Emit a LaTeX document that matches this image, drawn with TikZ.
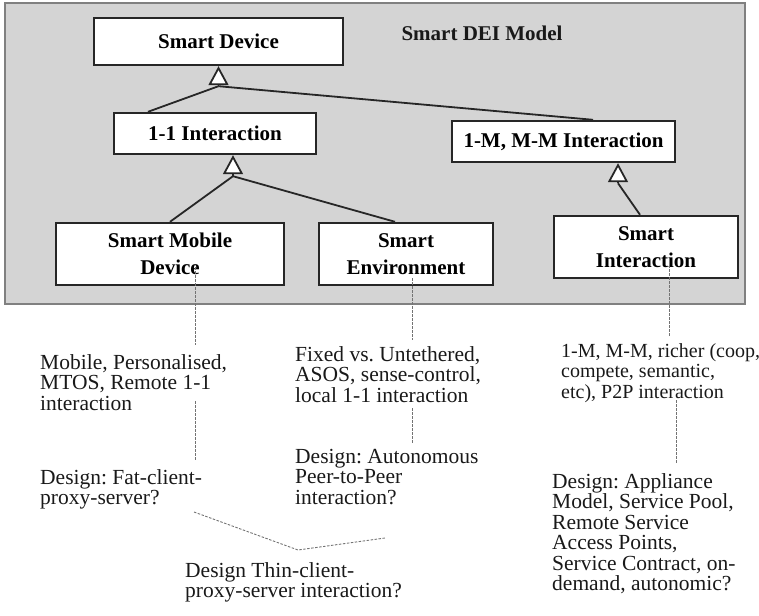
\documentclass[tikz,border=0pt]{standalone}
\usepackage{fontspec}
\setmainfont{Liberation Serif}
\usetikzlibrary{arrows.meta}

\begin{document}
\frenchspacing
\begin{tikzpicture}[x=1pt,y=-1pt,
		box/.style={draw=black!85, line width=2.4pt, fill=white, align=center, inner sep=0pt, font=\bfseries\fontsize{21}{27}\selectfont},
		link/.style={black!85, line width=1.8pt},
		gen/.style={link, -{Triangle[fill=white, width=20pt, length=19pt]}},
		dot/.style={black!55, line width=0.9pt, dash pattern=on 2.5pt off 1.5pt},
		note/.style={anchor=north west, align=left, inner sep=0pt, text=black!90, font=\fontsize{21.5}{20.5}\selectfont}]
		\useasboundingbox (0,0) rectangle (759,615);
		\filldraw[draw=black!50, fill=black!17, line width=1.6pt] (5,3) rectangle (745,304);
		\node[font=\bfseries\fontsize{21}{21}\selectfont, text=black!90] (title) at (482,33) {Smart DEI Model};
		\node[box, minimum width=249pt, minimum height=47pt] (sd) at (218.5,41.5) {Smart Device};
		\node[box, minimum width=202pt, minimum height=41pt] (ii) at (215,133.5) {1-1 Interaction};
		\node[box, minimum width=223pt, minimum height=41pt] (mm) at (563.5,141.5) {1-M, M-M Interaction};
		\node[box, minimum width=228pt, minimum height=62pt] (smd) at (170,254) {Smart Mobile\\Device};
		\node[box, minimum width=174pt, minimum height=62pt] (se) at (406,254) {Smart\\Environment};
		\node[box, minimum width=184pt, minimum height=62pt] (si) at (646,247) {Smart\\Interaction};
		\coordinate (t1) at ([yshift=-20pt]sd.south);
		\coordinate (t2) at ([xshift=18pt,yshift=-21pt]ii.south);
		\coordinate (t3) at ([xshift=54.5pt,yshift=-20pt]mm.south);
		\draw[link] ([xshift=-67pt]ii.north) -- (t1);
		\draw[link] ([xshift=29.5pt]mm.north) -- (t1);
		\draw[gen] (t1) -- (sd.south);
		\draw[link] (smd.north) -- (t2);
		\draw[link] ([xshift=-11pt]se.north) -- (t2);
		\draw[gen] (t2) -- ([xshift=18pt]ii.south);
		\draw[link] ([xshift=-6pt]si.north) -- (t3);
		\draw[gen] (t3) -- ([xshift=54.5pt]mm.south);
		\node[note] (mob) at (40,354) {Mobile, Personalised,\\MTOS, Remote 1-1\\interaction};
		\node[note] (fat) at (40,469) {Design: Fat-client-\\proxy-server?};
		\node[note] (fix) at (295,346) {Fixed vs. Untethered,\\ASOS, sense-control,\\local 1-1 interaction};
		\node[note] (auto) at (295,449) {Design: Autonomous\\Peer-to-Peer\\interaction?};
		\node[note, font=\fontsize{20}{20.5}\selectfont] (rich) at (561,343) {1-M, M-M, richer (coop,\\compete, semantic,\\etc), P2P interaction};
		\node[note] (appl) at (552,473) {Design: Appliance\\Model, Service Pool,\\Remote Service\\Access Points,\\Service Contract, on-\\demand, autonomic?};
		\node[note] (thin) at (185,562) {Design Thin-client-\\proxy-server interaction?};
		\coordinate (m1) at (195,267);
		\coordinate (m2) at (195,345);
		\coordinate (m3) at (195,401);
		\coordinate (m4) at (195,461);
		\coordinate (e1) at (412,278);
		\coordinate (e2) at (412,340);
		\coordinate (e3) at (412,408);
		\coordinate (e4) at (412,444);
		\coordinate (i1) at (669,265);
		\coordinate (i2) at (669,337);
		\coordinate (i3) at (676,400);
		\coordinate (i4) at (676,463);
		\coordinate (z1) at (194,512);
		\coordinate (z2) at (298,550);
		\coordinate (z3) at (385,538);
		\draw[dot] (m1) -- (m2);
		\draw[dot] (m3) -- (m4);
		\draw[dot] (e1) -- (e2);
		\draw[dot] (e3) -- (e4);
		\draw[dot] (i1) -- (i2);
		\draw[dot] (i3) -- (i4);
		\draw[dot] (z1) -- (z2) -- (z3);
\end{tikzpicture}
\end{document}
